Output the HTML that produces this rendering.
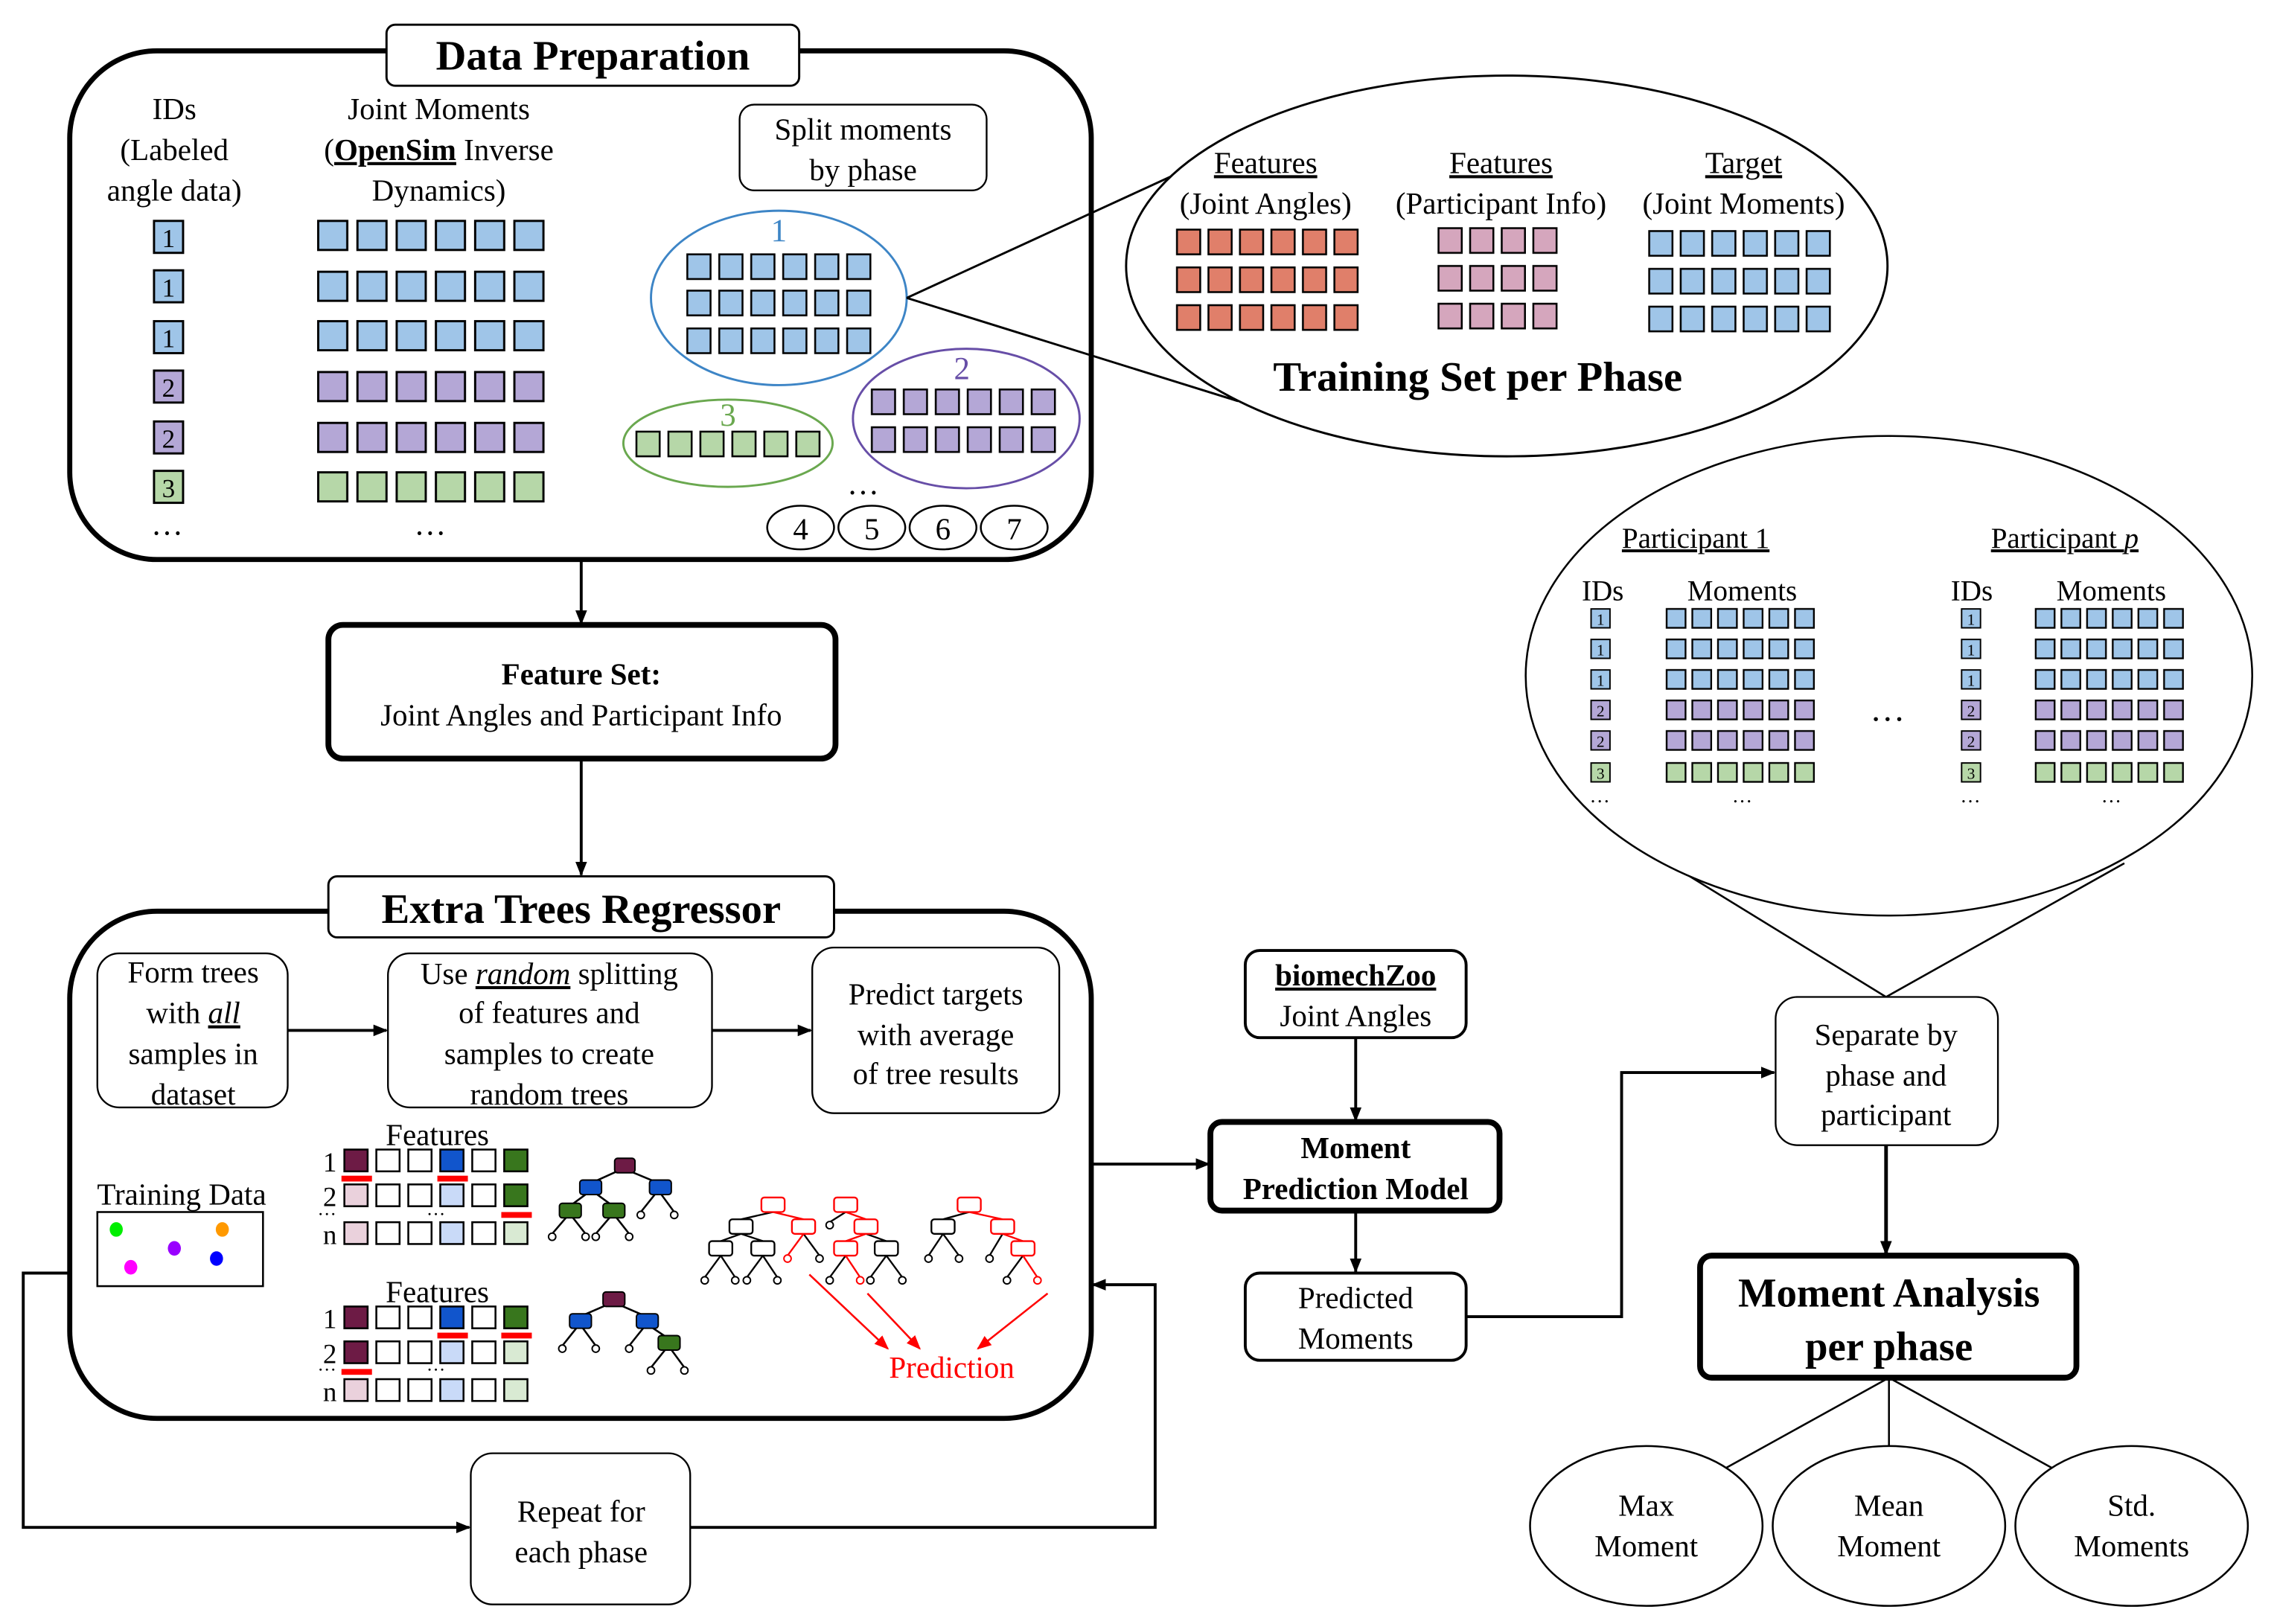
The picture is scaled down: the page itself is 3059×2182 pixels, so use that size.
<!DOCTYPE html>
<html><head><meta charset="utf-8"><style>
html,body{margin:0;padding:0;background:#fff}
svg{display:block}
svg text{font-family:"Liberation Serif","DejaVu Serif",serif;fill:#000}
</style></head><body>
<svg width="3059" height="2182" viewBox="0 0 1560 1113" preserveAspectRatio="none" xmlns="http://www.w3.org/2000/svg" font-family="Liberation Serif, DejaVu Serif, serif">
<defs>
<marker id="ar" markerWidth="10" markerHeight="10" refX="9" refY="5" orient="auto" markerUnits="userSpaceOnUse"><path d="M0,1 L10,5 L0,9 z" fill="#000"/></marker>
<marker id="arr" markerWidth="10" markerHeight="10" refX="9" refY="5" orient="auto" markerUnits="userSpaceOnUse"><path d="M0,1 L10,5 L0,9 z" fill="#f00"/></marker>
<pattern id="Ab" patternUnits="objectBoundingBox" width="0.16667" height="1"><rect x="1" y="1" width="20" height="20" fill="#9fc5e8" stroke="#000" stroke-width="1.5"/></pattern>
<pattern id="Ap" patternUnits="objectBoundingBox" width="0.16667" height="1"><rect x="1" y="1" width="20" height="20" fill="#b4a7d6" stroke="#000" stroke-width="1.5"/></pattern>
<pattern id="Ag" patternUnits="objectBoundingBox" width="0.16667" height="1"><rect x="1" y="1" width="20" height="20" fill="#b6d7a8" stroke="#000" stroke-width="1.5"/></pattern>
<pattern id="Bb" patternUnits="objectBoundingBox" width="0.16667" height="1"><rect x="1" y="1" width="16" height="17" fill="#9fc5e8" stroke="#000" stroke-width="1.3"/></pattern>
<pattern id="Bp" patternUnits="objectBoundingBox" width="0.16667" height="1"><rect x="1" y="1" width="16" height="17" fill="#b4a7d6" stroke="#000" stroke-width="1.3"/></pattern>
<pattern id="Bg" patternUnits="objectBoundingBox" width="0.16667" height="1"><rect x="1" y="1" width="16" height="17" fill="#b6d7a8" stroke="#000" stroke-width="1.3"/></pattern>
<pattern id="Cr" patternUnits="objectBoundingBox" width="0.16667" height="1"><rect x="1" y="1" width="16" height="17" fill="#e07f6a" stroke="#000" stroke-width="1.3"/></pattern>
<pattern id="Ck" patternUnits="objectBoundingBox" width="0.25" height="1"><rect x="1" y="1" width="16" height="17" fill="#d5a6bd" stroke="#000" stroke-width="1.3"/></pattern>
<pattern id="Cb" patternUnits="objectBoundingBox" width="0.16667" height="1"><rect x="1" y="1" width="16" height="17" fill="#9fc5e8" stroke="#000" stroke-width="1.3"/></pattern>
<pattern id="Db" patternUnits="objectBoundingBox" width="0.16667" height="1"><rect x="1" y="1" width="13" height="13" fill="#9fc5e8" stroke="#000" stroke-width="1.2"/></pattern>
<pattern id="Dp" patternUnits="objectBoundingBox" width="0.16667" height="1"><rect x="1" y="1" width="13" height="13" fill="#b4a7d6" stroke="#000" stroke-width="1.2"/></pattern>
<pattern id="Dg" patternUnits="objectBoundingBox" width="0.16667" height="1"><rect x="1" y="1" width="13" height="13" fill="#b6d7a8" stroke="#000" stroke-width="1.2"/></pattern>
</defs>
<g transform="scale(0.9955,0.996)">

<rect x="48" y="35" width="703" height="350" rx="60" fill="none" stroke="#000" stroke-width="3.5"/>
<rect x="266" y="17" width="284" height="42" rx="6" fill="#fff" stroke="#000" stroke-width="1.5"/>
<text x="408" y="48" font-size="29" font-weight="bold" text-anchor="middle">Data Preparation</text>
<g font-size="21" text-anchor="middle">
<text x="120" y="82">IDs</text><text x="120" y="110">(Labeled</text><text x="120" y="138">angle data)</text>
<text x="302" y="82">Joint Moments</text>
<text x="302" y="110">(<tspan font-weight="bold" text-decoration="underline">OpenSim</tspan> Inverse</text>
<text x="302" y="138">Dynamics)</text>
</g>
<g stroke="#000" stroke-width="1.5">
<rect x="106" y="152" width="20" height="22" fill="#9fc5e8"/>
<rect x="106" y="186" width="20" height="22" fill="#9fc5e8"/>
<rect x="106" y="221" width="20" height="22" fill="#9fc5e8"/>
<rect x="106" y="255" width="20" height="22" fill="#b4a7d6"/>
<rect x="106" y="290" width="20" height="22" fill="#b4a7d6"/>
<rect x="106" y="324" width="20" height="22" fill="#b6d7a8"/>
</g>
<g font-size="18" text-anchor="middle">
<text x="116" y="170">1</text><text x="116" y="204">1</text><text x="116" y="239">1</text>
<text x="116" y="273">2</text><text x="116" y="308">2</text><text x="116" y="342">3</text>
</g>
<rect x="218" y="151" width="162" height="23" fill="url(#Ab)"/>
<rect x="218" y="186" width="162" height="23" fill="url(#Ab)"/>
<rect x="218" y="220" width="162" height="23" fill="url(#Ab)"/>
<rect x="218" y="255" width="162" height="23" fill="url(#Ap)"/>
<rect x="218" y="290" width="162" height="23" fill="url(#Ap)"/>
<rect x="218" y="324" width="162" height="23" fill="url(#Ag)"/>
<text x="115" y="368" font-size="22" text-anchor="middle">…</text>
<text x="296" y="368" font-size="22" text-anchor="middle">…</text>

<rect x="509" y="72" width="170" height="59" rx="10" fill="#fff" stroke="#000" stroke-width="1.2"/>
<text x="594" y="96" font-size="21" text-anchor="middle">Split moments</text>
<text x="594" y="124" font-size="21" text-anchor="middle">by phase</text>

<ellipse cx="536" cy="205" rx="88" ry="60" fill="none" stroke="#3d85c6" stroke-width="1.5"/>
<text x="536" y="166" font-size="22" style="fill:#3d85c6" text-anchor="middle">1</text>
<rect x="472" y="174" width="132" height="19" fill="url(#Bb)"/>
<rect x="472" y="199" width="132" height="19" fill="url(#Bb)"/>
<rect x="472" y="225" width="132" height="19" fill="url(#Bb)"/>
<ellipse cx="665" cy="288" rx="78" ry="48" fill="none" stroke="#674ea7" stroke-width="1.5"/>
<text x="662" y="261" font-size="22" style="fill:#674ea7" text-anchor="middle">2</text>
<rect x="599" y="267" width="132" height="19" fill="url(#Bp)"/>
<rect x="599" y="293" width="132" height="19" fill="url(#Bp)"/>
<ellipse cx="501" cy="305" rx="72" ry="30" fill="none" stroke="#6aa84f" stroke-width="1.5"/>
<text x="501" y="293" font-size="22" style="fill:#6aa84f" text-anchor="middle">3</text>
<rect x="437" y="296" width="132" height="19" fill="url(#Bg)"/>
<text x="594" y="340" font-size="22" text-anchor="middle">…</text>
<g fill="#fff" stroke="#000" stroke-width="1.3">
<ellipse cx="551" cy="363" rx="23" ry="15"/><ellipse cx="600" cy="363" rx="23" ry="15"/>
<ellipse cx="649" cy="363" rx="23" ry="15"/><ellipse cx="698" cy="363" rx="23" ry="15"/>
</g>
<g font-size="21" text-anchor="middle">
<text x="551" y="371">4</text><text x="600" y="371">5</text><text x="649" y="371">6</text><text x="698" y="371">7</text>
</g>

<line x1="624" y1="205" x2="846" y2="103" stroke="#000" stroke-width="1.5"/>
<line x1="624" y1="205" x2="852" y2="276" stroke="#000" stroke-width="1.5"/>
<ellipse cx="1037" cy="183" rx="262" ry="131" fill="#fff" stroke="#000" stroke-width="1.5"/>
<g font-size="21" text-anchor="middle">
<text x="871" y="119" text-decoration="underline">Features</text>
<text x="871" y="147">(Joint Angles)</text>
<text x="1033" y="119" text-decoration="underline">Features</text>
<text x="1033" y="147">(Participant Info)</text>
<text x="1200" y="119" text-decoration="underline">Target</text>
<text x="1200" y="147">(Joint Moments)</text>
</g>
<rect x="809" y="157" width="130" height="19" fill="url(#Cr)"/>
<rect x="809" y="183" width="130" height="19" fill="url(#Cr)"/>
<rect x="809" y="209" width="130" height="19" fill="url(#Cr)"/>
<rect x="989" y="156" width="87" height="19" fill="url(#Ck)"/>
<rect x="989" y="182" width="87" height="19" fill="url(#Ck)"/>
<rect x="989" y="208" width="87" height="19" fill="url(#Ck)"/>
<rect x="1134" y="158" width="130" height="19" fill="url(#Cb)"/>
<rect x="1134" y="184" width="130" height="19" fill="url(#Cb)"/>
<rect x="1134" y="210" width="130" height="19" fill="url(#Cb)"/>
<text x="1017" y="269" font-size="29" font-weight="bold" text-anchor="middle">Training Set per Phase</text>

<line x1="400" y1="385" x2="400" y2="429" stroke="#000" stroke-width="2" marker-end="url(#ar)"/>
<rect x="226" y="430" width="349" height="92" rx="10" fill="#fff" stroke="#000" stroke-width="4"/>
<text x="400" y="471" font-size="21" font-weight="bold" text-anchor="middle">Feature Set:</text>
<text x="400" y="499" font-size="21" text-anchor="middle">Joint Angles and Participant Info</text>
<line x1="400" y1="522" x2="400" y2="602" stroke="#000" stroke-width="2" marker-end="url(#ar)"/>

<rect x="48" y="627" width="703" height="349" rx="60" fill="none" stroke="#000" stroke-width="3.5"/>
<rect x="226" y="603" width="348" height="42" rx="6" fill="#fff" stroke="#000" stroke-width="1.5"/>
<text x="400" y="635" font-size="29" font-weight="bold" text-anchor="middle">Extra Trees Regressor</text>
<g fill="#fff" stroke="#000" stroke-width="1.2">
<rect x="67" y="656" width="131" height="106" rx="15"/>
<rect x="267" y="656" width="223" height="106" rx="15"/>
<rect x="559" y="652" width="170" height="114" rx="15"/>
</g>
<g font-size="21" text-anchor="middle">
<text x="133" y="676">Form trees</text>
<text x="133" y="704">with <tspan font-style="italic" text-decoration="underline">all</tspan></text>
<text x="133" y="732">samples in</text>
<text x="133" y="760">dataset</text>
<text x="378" y="677">Use <tspan font-style="italic" text-decoration="underline">random</tspan> splitting</text>
<text x="378" y="704">of features and</text>
<text x="378" y="732">samples to create</text>
<text x="378" y="760">random trees</text>
<text x="644" y="691">Predict targets</text>
<text x="644" y="719">with average</text>
<text x="644" y="746">of tree results</text>
</g>
<line x1="198" y1="709" x2="266" y2="709" stroke="#000" stroke-width="2" marker-end="url(#ar)"/>
<line x1="490" y1="709" x2="558" y2="709" stroke="#000" stroke-width="2" marker-end="url(#ar)"/>

<text x="125" y="829" font-size="21" text-anchor="middle">Training Data</text>
<rect x="67" y="834" width="114" height="51" fill="#fff" stroke="#000" stroke-width="1.3"/>
<ellipse cx="80" cy="846" rx="4.5" ry="5" fill="#00ee00"/>
<ellipse cx="153" cy="846" rx="4.5" ry="5" fill="#ff9900"/>
<ellipse cx="120" cy="859" rx="4.5" ry="5" fill="#9900ff"/>
<ellipse cx="149" cy="866" rx="4.5" ry="5" fill="#0000ff"/>
<ellipse cx="90" cy="872" rx="4.5" ry="5" fill="#ff00ff"/>

<text x="301" y="788" font-size="21" text-anchor="middle">Features</text>
<text x="301" y="896" font-size="21" text-anchor="middle">Features</text>
<g font-size="19" text-anchor="middle"><text x="227" y="806">1</text><text x="227" y="830">2</text><text x="227" y="856">n</text>
<text x="227" y="914">1</text><text x="227" y="938">2</text><text x="227" y="964">n</text></g>
<text x="225" y="836" font-size="13" text-anchor="middle">…</text>
<text x="300" y="836" font-size="13" text-anchor="middle">…</text>
<text x="225" y="943" font-size="13" text-anchor="middle">…</text>
<text x="300" y="943" font-size="13" text-anchor="middle">…</text>
<g stroke="#000" stroke-width="1.3">
<rect x="237" y="791" width="16" height="15" fill="#6d1b45"/><rect x="259" y="791" width="16" height="15" fill="#fff"/><rect x="281" y="791" width="16" height="15" fill="#fff"/><rect x="303" y="791" width="16" height="15" fill="#1155cc"/><rect x="325" y="791" width="16" height="15" fill="#fff"/><rect x="347" y="791" width="16" height="15" fill="#38761d"/>
<rect x="237" y="815" width="16" height="15" fill="#ead1dc"/><rect x="259" y="815" width="16" height="15" fill="#fff"/><rect x="281" y="815" width="16" height="15" fill="#fff"/><rect x="303" y="815" width="16" height="15" fill="#c9daf8"/><rect x="325" y="815" width="16" height="15" fill="#fff"/><rect x="347" y="815" width="16" height="15" fill="#38761d"/>
<rect x="237" y="841" width="16" height="15" fill="#ead1dc"/><rect x="259" y="841" width="16" height="15" fill="#fff"/><rect x="281" y="841" width="16" height="15" fill="#fff"/><rect x="303" y="841" width="16" height="15" fill="#c9daf8"/><rect x="325" y="841" width="16" height="15" fill="#fff"/><rect x="347" y="841" width="16" height="15" fill="#d9ead3"/>
<rect x="237" y="899" width="16" height="15" fill="#6d1b45"/><rect x="259" y="899" width="16" height="15" fill="#fff"/><rect x="281" y="899" width="16" height="15" fill="#fff"/><rect x="303" y="899" width="16" height="15" fill="#1155cc"/><rect x="325" y="899" width="16" height="15" fill="#fff"/><rect x="347" y="899" width="16" height="15" fill="#38761d"/>
<rect x="237" y="923" width="16" height="15" fill="#6d1b45"/><rect x="259" y="923" width="16" height="15" fill="#fff"/><rect x="281" y="923" width="16" height="15" fill="#fff"/><rect x="303" y="923" width="16" height="15" fill="#c9daf8"/><rect x="325" y="923" width="16" height="15" fill="#fff"/><rect x="347" y="923" width="16" height="15" fill="#d9ead3"/>
<rect x="237" y="949" width="16" height="15" fill="#ead1dc"/><rect x="259" y="949" width="16" height="15" fill="#fff"/><rect x="281" y="949" width="16" height="15" fill="#fff"/><rect x="303" y="949" width="16" height="15" fill="#c9daf8"/><rect x="325" y="949" width="16" height="15" fill="#fff"/><rect x="347" y="949" width="16" height="15" fill="#d9ead3"/>
</g>
<g fill="#f00">
<rect x="235" y="809" width="21" height="4"/><rect x="301" y="809" width="21" height="4"/><rect x="345" y="834" width="21" height="4"/>
<rect x="301" y="917" width="21" height="4"/><rect x="345" y="917" width="21" height="4"/><rect x="235" y="942" width="21" height="4"/>
</g>

<g stroke="#000" stroke-width="1.3" fill="none">
<path d="M429,804 L407,814 M429,804 L453,814 M407,819 L392,830 M407,819 L422,830 M453,819 L441,834 M453,819 L464,834 M392,835 L380,849 M392,835 L403,849 M422,835 L410,849 M422,835 L433,849"/>
<path d="M422,896 L399,906 M422,896 L445,906 M399,911 L387,926 M399,911 L410,926 M445,911 L433,926 M445,911 L460,921 M460,926 L448,941 M460,926 L471,941"/>
</g>
<g stroke="#000" stroke-width="1">
<rect x="423" y="797" width="14" height="10" rx="2" fill="#6d1b45"/>
<rect x="399" y="812" width="15" height="10" rx="2" fill="#1155cc"/><rect x="447" y="812" width="15" height="10" rx="2" fill="#1155cc"/>
<rect x="385" y="828" width="15" height="10" rx="2" fill="#38761d"/><rect x="415" y="828" width="15" height="10" rx="2" fill="#38761d"/>
<rect x="415" y="889" width="15" height="10" rx="2" fill="#6d1b45"/>
<rect x="392" y="904" width="15" height="10" rx="2" fill="#1155cc"/><rect x="438" y="904" width="15" height="10" rx="2" fill="#1155cc"/>
<rect x="453" y="919" width="15" height="10" rx="2" fill="#38761d"/>
</g>
<g fill="#fff" stroke="#000" stroke-width="1">
<circle cx="441" cy="836" r="2.5"/><circle cx="464" cy="836" r="2.5"/>
<circle cx="380" cy="851" r="2.5"/><circle cx="403" cy="851" r="2.5"/><circle cx="410" cy="851" r="2.5"/><circle cx="433" cy="851" r="2.5"/>
<circle cx="387" cy="928" r="2.5"/><circle cx="410" cy="928" r="2.5"/><circle cx="433" cy="928" r="2.5"/>
<circle cx="448" cy="943" r="2.5"/><circle cx="471" cy="943" r="2.5"/>
</g>

<g stroke-width="1.2" fill="none">
<path stroke="#000" d="M532,834 L510,839 M510,849 L496,854 M510,849 L525,854 M496,864 L485,879 M496,864 L506,879 M525,864 L514,879 M525,864 L535,879 M553,849 L564,864"/>
<path stroke="#f00" d="M532,834 L553,839 M553,849 L542,864"/>
<path stroke="#000" d="M582,834 L571,841 M596,849 L610,854 M610,864 L599,879 M610,864 L621,879 M582,864 L571,879"/>
<path stroke="#f00" d="M582,834 L596,839 M596,849 L582,854 M582,864 L592,879"/>
<path stroke="#000" d="M667,834 L649,839 M649,849 L639,864 M649,849 L660,864 M690,849 L681,864 M704,864 L693,879"/>
<path stroke="#f00" d="M667,834 L690,839 M690,849 L704,854 M704,864 L714,879"/>
</g>
<g fill="#fff" stroke-width="1.2">
<rect x="524" y="824" width="16" height="10" rx="2" stroke="#f00"/>
<rect x="502" y="839" width="16" height="10" rx="2" stroke="#000"/>
<rect x="545" y="839" width="16" height="10" rx="2" stroke="#f00"/>
<rect x="488" y="854" width="16" height="10" rx="2" stroke="#000"/>
<rect x="517" y="854" width="16" height="10" rx="2" stroke="#000"/>
<rect x="574" y="824" width="16" height="10" rx="2" stroke="#f00"/>
<rect x="588" y="839" width="16" height="10" rx="2" stroke="#f00"/>
<rect x="574" y="854" width="16" height="10" rx="2" stroke="#f00"/>
<rect x="602" y="854" width="16" height="10" rx="2" stroke="#000"/>
<rect x="659" y="824" width="16" height="10" rx="2" stroke="#f00"/>
<rect x="641" y="839" width="16" height="10" rx="2" stroke="#000"/>
<rect x="682" y="839" width="16" height="10" rx="2" stroke="#f00"/>
<rect x="696" y="854" width="16" height="10" rx="2" stroke="#f00"/>
</g>
<g fill="#fff" stroke="#000" stroke-width="1">
<circle cx="485" cy="881" r="2.5"/><circle cx="506" cy="881" r="2.5"/><circle cx="514" cy="881" r="2.5"/><circle cx="535" cy="881" r="2.5"/>
<circle cx="564" cy="866" r="2.5"/><circle cx="571" cy="843" r="2.5"/>
<circle cx="571" cy="881" r="2.5"/><circle cx="599" cy="881" r="2.5"/><circle cx="621" cy="881" r="2.5"/>
<circle cx="639" cy="866" r="2.5"/><circle cx="660" cy="866" r="2.5"/><circle cx="681" cy="866" r="2.5"/><circle cx="693" cy="881" r="2.5"/>
<circle cx="542" cy="866" r="2.5" stroke="#f00"/><circle cx="592" cy="881" r="2.5" stroke="#f00"/><circle cx="714" cy="881" r="2.5" stroke="#f00"/>
</g>
<g stroke="#f00" stroke-width="1.3">
<line x1="557" y1="877" x2="611" y2="928" marker-end="url(#arr)"/>
<line x1="597" y1="890" x2="633" y2="928" marker-end="url(#arr)"/>
<line x1="721" y1="890" x2="673" y2="928" marker-end="url(#arr)"/>
</g>
<text x="655" y="948" font-size="21" style="fill:#f00" text-anchor="middle">Prediction</text>

<polyline points="48,876 16,876 16,1051 323,1051" fill="none" stroke="#000" stroke-width="2" marker-end="url(#ar)"/>
<rect x="324" y="1000" width="151" height="104" rx="15" fill="#fff" stroke="#000" stroke-width="1.2"/>
<text x="400" y="1047" font-size="21" text-anchor="middle">Repeat for</text>
<text x="400" y="1075" font-size="21" text-anchor="middle">each phase</text>
<polyline points="475,1051 795,1051 795,884 752,884" fill="none" stroke="#000" stroke-width="2" marker-end="url(#ar)"/>

<rect x="857" y="654" width="152" height="60" rx="10" fill="#fff" stroke="#000" stroke-width="2"/>
<text x="933" y="678" font-size="21" font-weight="bold" text-decoration="underline" text-anchor="middle">biomechZoo</text>
<text x="933" y="706" font-size="21" text-anchor="middle">Joint Angles</text>
<line x1="933" y1="714" x2="933" y2="771" stroke="#000" stroke-width="2" marker-end="url(#ar)"/>
<line x1="751" y1="801" x2="832" y2="801" stroke="#000" stroke-width="2" marker-end="url(#ar)"/>
<rect x="833" y="772" width="199" height="61" rx="8" fill="#fff" stroke="#000" stroke-width="4"/>
<text x="933" y="797" font-size="21" font-weight="bold" text-anchor="middle">Moment</text>
<text x="933" y="825" font-size="21" font-weight="bold" text-anchor="middle">Prediction Model</text>
<line x1="933" y1="833" x2="933" y2="875" stroke="#000" stroke-width="2" marker-end="url(#ar)"/>
<rect x="857" y="876" width="152" height="60" rx="10" fill="#fff" stroke="#000" stroke-width="2"/>
<text x="933" y="900" font-size="21" text-anchor="middle">Predicted</text>
<text x="933" y="928" font-size="21" text-anchor="middle">Moments</text>
<polyline points="1009,906 1116,906 1116,738 1221,738" fill="none" stroke="#000" stroke-width="2" marker-end="url(#ar)"/>

<line x1="1298" y1="686" x2="1158" y2="600" stroke="#000" stroke-width="1.3"/>
<line x1="1298" y1="686" x2="1462" y2="594" stroke="#000" stroke-width="1.3"/>
<ellipse cx="1300" cy="465" rx="250" ry="165" fill="#fff" stroke="#000" stroke-width="1.3"/>
<g font-size="20" text-anchor="middle">
<text x="1167" y="377" text-decoration="underline">Participant 1</text>
<text x="1421" y="377" text-decoration="underline">Participant <tspan font-style="italic">p</tspan></text>
<text x="1103" y="413">IDs</text><text x="1199" y="413">Moments</text>
<text x="1357" y="413">IDs</text><text x="1453" y="413">Moments</text>
</g>
<g stroke="#000" stroke-width="1">
<rect x="1095" y="419" width="13" height="13" fill="#9fc5e8"/><rect x="1095" y="440" width="13" height="13" fill="#9fc5e8"/><rect x="1095" y="461" width="13" height="13" fill="#9fc5e8"/>
<rect x="1095" y="482" width="13" height="13" fill="#b4a7d6"/><rect x="1095" y="503" width="13" height="13" fill="#b4a7d6"/><rect x="1095" y="525" width="13" height="13" fill="#b6d7a8"/>
<rect x="1350" y="419" width="13" height="13" fill="#9fc5e8"/><rect x="1350" y="440" width="13" height="13" fill="#9fc5e8"/><rect x="1350" y="461" width="13" height="13" fill="#9fc5e8"/>
<rect x="1350" y="482" width="13" height="13" fill="#b4a7d6"/><rect x="1350" y="503" width="13" height="13" fill="#b4a7d6"/><rect x="1350" y="525" width="13" height="13" fill="#b6d7a8"/>
</g>
<g font-size="11" text-anchor="middle">
<text x="1101.5" y="430">1</text><text x="1101.5" y="451">1</text><text x="1101.5" y="472">1</text><text x="1101.5" y="493">2</text><text x="1101.5" y="514">2</text><text x="1101.5" y="536">3</text>
<text x="1356.5" y="430">1</text><text x="1356.5" y="451">1</text><text x="1356.5" y="472">1</text><text x="1356.5" y="493">2</text><text x="1356.5" y="514">2</text><text x="1356.5" y="536">3</text>
</g>
<rect x="1146" y="418" width="106" height="15" fill="url(#Db)"/><rect x="1146" y="439" width="106" height="15" fill="url(#Db)"/><rect x="1146" y="460" width="106" height="15" fill="url(#Db)"/>
<rect x="1146" y="481" width="106" height="15" fill="url(#Dp)"/><rect x="1146" y="502" width="106" height="15" fill="url(#Dp)"/><rect x="1146" y="524" width="106" height="15" fill="url(#Dg)"/>
<rect x="1400" y="418" width="106" height="15" fill="url(#Db)"/><rect x="1400" y="439" width="106" height="15" fill="url(#Db)"/><rect x="1400" y="460" width="106" height="15" fill="url(#Db)"/>
<rect x="1400" y="481" width="106" height="15" fill="url(#Dp)"/><rect x="1400" y="502" width="106" height="15" fill="url(#Dp)"/><rect x="1400" y="524" width="106" height="15" fill="url(#Dg)"/>
<g text-anchor="middle" font-size="14">
<text x="1101" y="552">…</text><text x="1199" y="552">…</text><text x="1356" y="552">…</text><text x="1453" y="552">…</text>
</g>
<text x="1299" y="496" font-size="24" text-anchor="middle">…</text>

<rect x="1222" y="686" width="153" height="102" rx="15" fill="#fff" stroke="#000" stroke-width="1.2"/>
<g font-size="21" text-anchor="middle">
<text x="1298" y="719">Separate by</text><text x="1298" y="747">phase and</text><text x="1298" y="774">participant</text>
</g>
<line x1="1298" y1="788" x2="1298" y2="863" stroke="#000" stroke-width="2.5" marker-end="url(#ar)"/>
<rect x="1170" y="864" width="259" height="84" rx="8" fill="#fff" stroke="#000" stroke-width="4"/>
<text x="1300" y="899" font-size="28" font-weight="bold" text-anchor="middle">Moment Analysis</text>
<text x="1300" y="936" font-size="28" font-weight="bold" text-anchor="middle">per phase</text>
<g stroke="#000" stroke-width="1.3">
<line x1="1300" y1="948" x2="1188" y2="1010"/><line x1="1300" y1="948" x2="1300" y2="995"/><line x1="1300" y1="948" x2="1412" y2="1010"/>
</g>
<g fill="#fff" stroke="#000" stroke-width="1.3">
<ellipse cx="1133" cy="1050" rx="80" ry="55"/><ellipse cx="1300" cy="1050" rx="80" ry="55"/><ellipse cx="1467" cy="1050" rx="80" ry="55"/>
</g>
<g font-size="21" text-anchor="middle">
<text x="1133" y="1043">Max</text><text x="1133" y="1071">Moment</text>
<text x="1300" y="1043">Mean</text><text x="1300" y="1071">Moment</text>
<text x="1467" y="1043">Std.</text><text x="1467" y="1071">Moments</text>
</g>
</g>
</svg>
</body></html>
